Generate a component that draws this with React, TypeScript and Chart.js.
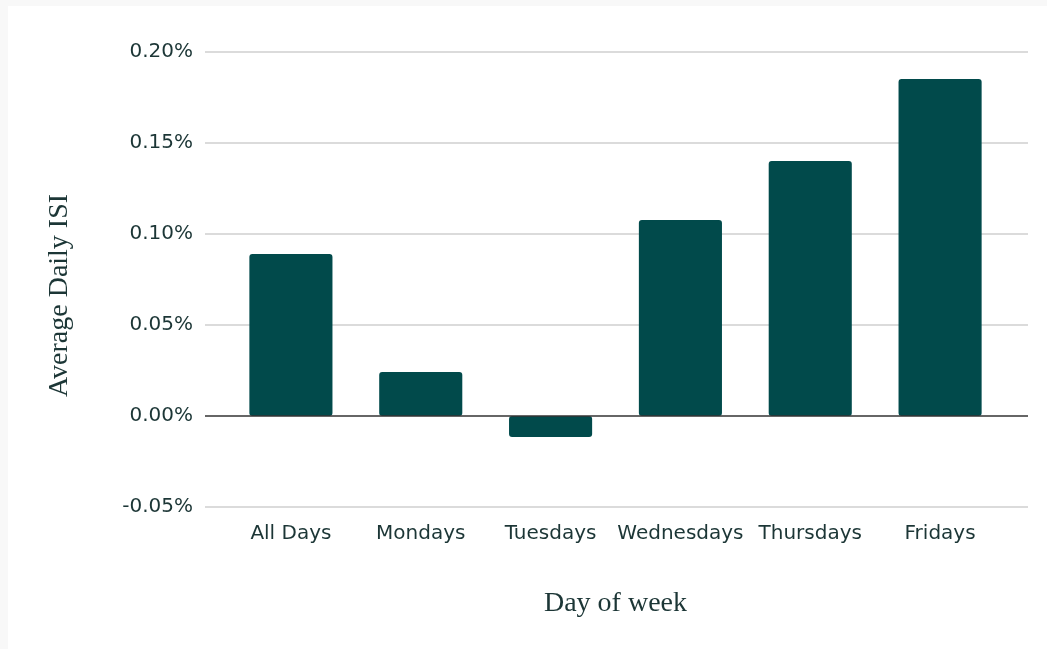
import React, { useEffect, useRef } from "react";
import { Chart, registerables } from "chart.js";

Chart.register(...registerables);

const categories = ["All Days", "Mondays", "Tuesdays", "Wednesdays", "Thursdays", "Fridays"];
const isiValues = [0.089, 0.0242, -0.0115, 0.1077, 0.1401, 0.1852];
const yMin = -0.05;
const yMax = 0.2;
const yStep = 0.05;
const xTitle = "Day of week";
const yTitle = "Average Daily ISI";

const TEXT = "#1c3636";
const BAR = "#014a4b";

const gridPlugin = {
  id: "extGrid",
  beforeDatasetsDraw(chart: any) {
    const { ctx, chartArea } = chart;
    const ys = chart.scales.y;
    ctx.save();
    ys.ticks.forEach((t: any) => {
      if (Math.abs(t.value) < 1e-9) return;
      const py = Math.round(ys.getPixelForValue(t.value));
      ctx.strokeStyle = "#cfcfcf";
      ctx.lineWidth = 1.5;
      ctx.beginPath();
      ctx.moveTo(chartArea.left - 21, py);
      ctx.lineTo(chartArea.right + 23, py);
      ctx.stroke();
    });
    ctx.restore();
  },
  afterDatasetsDraw(chart: any) {
    const { ctx, chartArea } = chart;
    const ys = chart.scales.y;
    const py = Math.round(ys.getPixelForValue(0));
    ctx.save();
    ctx.strokeStyle = "#333333";
    ctx.lineWidth = 1.5;
    ctx.beginPath();
    ctx.moveTo(chartArea.left - 21, py);
    ctx.lineTo(chartArea.right + 23, py);
    ctx.stroke();
    ctx.restore();
  },
  afterDraw(chart: any) {
    const { ctx, chartArea } = chart;
    ctx.save();
    ctx.font = "28px 'Liberation Serif', serif";
    ctx.fillStyle = TEXT;
    ctx.textAlign = "center";
    ctx.textBaseline = "middle";
    ctx.translate(52, (chartArea.top + chartArea.bottom) / 2 + 16);
    ctx.rotate(-Math.PI / 2);
    ctx.fillText(yTitle, 0, 0);
    ctx.restore();
  },
};

export default function App() {
  const ref = useRef<HTMLCanvasElement | null>(null);
  useEffect(() => {
    document.body.style.background = "#f8f8f8";
    if (!ref.current) return;
    const chart = new Chart(ref.current, {
      type: "bar",
      data: {
        labels: categories,
        datasets: [
          {
            data: isiValues,
            backgroundColor: BAR,
            borderRadius: 3,
            borderSkipped: false,
            barPercentage: 0.8,
            categoryPercentage: 0.8,
          },
        ],
      },
      options: {
        animation: false,
        responsive: false,
        maintainAspectRatio: false,
        layout: { padding: { top: 46, right: 42, left: 0, bottom: 0 } },
        plugins: {
          legend: { display: false },
          tooltip: { enabled: false },
        },
        scales: {
          x: {
            grid: { display: false, drawTicks: false },
            border: { display: false },
            ticks: {
              color: TEXT,
              font: { family: "'DejaVu Sans', sans-serif", size: 20 },
              padding: 15,
              maxRotation: 0,
              autoSkip: false,
            },
            title: {
              display: true,
              text: xTitle,
              color: TEXT,
              font: { family: "'Liberation Serif', serif", size: 28 },
              padding: { top: 0, bottom: 29 },
            },
            afterFit: (s: any) => {
              s.height = 142;
            },
          },
          y: {
            min: yMin,
            max: yMax,
            grid: { display: false, drawTicks: false },
            border: { display: false },
            ticks: {
              stepSize: yStep,
              color: TEXT,
              font: { family: "'DejaVu Sans', sans-serif", size: 20 },
              padding: 33,
              callback: (v: any) => Number(v).toFixed(2) + "%",
            },
            afterFit: (s: any) => {
              s.width = 218;
            },
          },
        },
      },
      plugins: [gridPlugin],
    });
    return () => chart.destroy();
  }, []);
  return (
    <div
      style={{
        position: "fixed",
        left: 8,
        top: 6,
        right: 0,
        bottom: 0,
        background: "#ffffff",
      }}
    >
      <canvas ref={ref} width={1039} height={643} style={{ display: "block" }} />
    </div>
  );
}
